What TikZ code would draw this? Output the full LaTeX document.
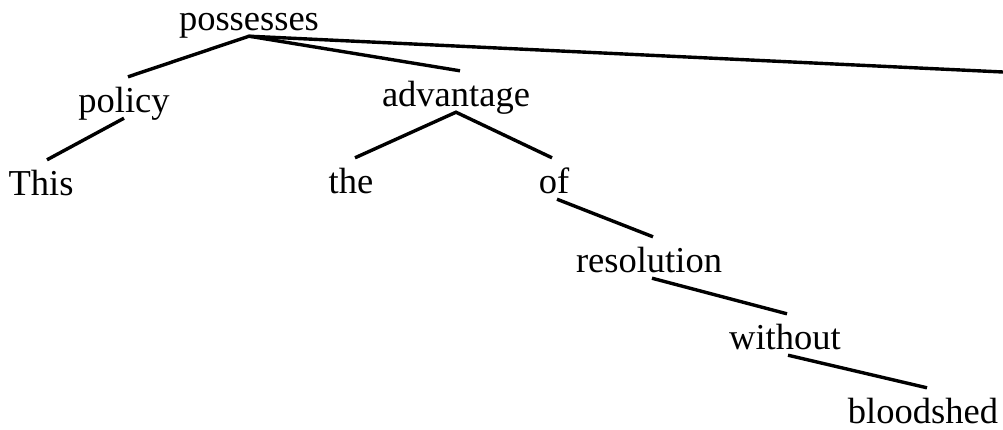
\documentclass[tikz,border=0pt]{standalone}
\usepackage{fontspec}
\setmainfont{Liberation Serif}
\begin{document}
\begin{tikzpicture}[x=1pt,y=-1pt,
  word/.style={anchor=base,inner xsep=0pt,inner ysep=6pt,
    text height=29pt,text depth=0pt,
    font=\fontsize{36.5}{40}\selectfont},
  dep/.style={line width=3.4pt}]
  \useasboundingbox (0,0) rectangle (1003,429);
  % words, placed by their baselines
  \node[word] (possesses)  at (249,30)  {possesses};
  \node[word] (policy)     at (124,112) {policy};
  \node[word] (this)       at (41,195)  {This};
  \node[word] (advantage)  at (456,106) {advantage};
  \node[word] (the)        at (351,193) {the};
  \node[word] (of)         at (554,193) {of};
  \node[word] (resolution) at (649,272) {resolution};
  \node[word] (without)    at (785,349) {without};
  \node[word] (bloodshed)  at (923,423) {bloodshed};
  \coordinate (offedge) at (1003,72);
  % dependency arcs
  \draw[dep] ([xshift=4pt]policy.north) -- (possesses.south)
             -- ([xshift=4pt]advantage.north);
  \draw[dep] (possesses.south) -- (offedge);
  \draw[dep] (policy.south) -- ([xshift=6pt]this.north);
  \draw[dep] ([xshift=4pt]the.north) -- (advantage.south)
             -- ([xshift=-2pt]of.north);
  \draw[dep] ([xshift=3pt]of.south) -- ([xshift=4pt]resolution.north);
  \draw[dep] ([xshift=3pt]resolution.south) -- ([xshift=2pt]without.north);
  \draw[dep] ([xshift=3pt]without.south) -- ([xshift=4pt]bloodshed.north);
\end{tikzpicture}
\end{document}
